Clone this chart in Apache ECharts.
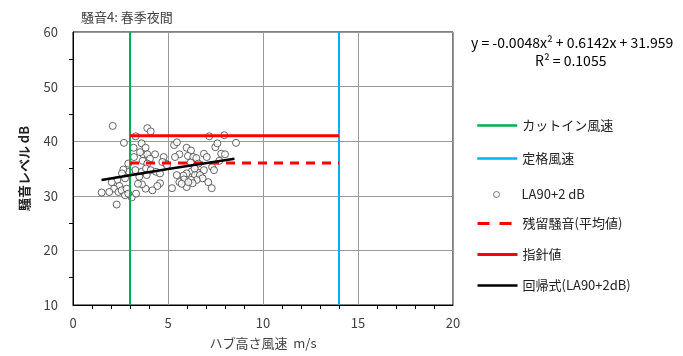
<!DOCTYPE html>
<html>
<head>
<meta charset="utf-8">
<script src="https://cdn.jsdelivr.net/npm/echarts@6/dist/echarts.min.js"></script>
<style>
  html, body { margin: 0; padding: 0; background: #fff; }
  #chart { width: 683px; height: 356px; }
</style>
</head>
<body>
<div id="chart"></div>
<script>
// 風速(m/s) と LA90+2dB の実測点
var windSpeed = [
  2.09, 3.91, 4.09, 3.30, 2.68, 3.19, 3.61, 3.82, 3.70, 3.91,
  4.32, 4.05, 3.67, 3.91, 2.91, 4.77, 4.88, 4.70, 5.32, 5.47,
  5.60, 5.98, 6.21, 6.05, 6.33, 6.49, 6.19, 6.60, 6.89, 7.17,
  7.49, 7.60, 7.96, 7.80, 8.00, 8.58, 7.04, 7.32, 7.42, 6.89,
  6.54, 6.25, 5.98, 5.81, 6.42, 6.68, 6.82, 6.51, 6.21, 5.84,
  5.60, 5.46, 5.21, 5.98, 6.30, 7.12, 7.30, 4.58, 4.44, 4.18,
  3.82, 3.63, 3.42, 3.61, 3.84, 4.09, 4.37, 3.28, 2.95, 2.65,
  2.58, 2.74, 2.33, 2.04, 2.44, 2.16, 1.91, 1.51, 2.39, 2.56,
  2.82, 2.74, 3.09, 3.32, 2.91, 2.30, 3.49, 3.88, 3.21, 3.53,
  4.58, 5.72, 6.07, 5.37, 4.95, 6.40, 7.70
];
var noiseLevel = [
  42.8, 42.4, 41.8, 40.9, 39.7, 38.8, 39.6, 38.8, 37.6, 37.6,
  37.6, 36.8, 36.4, 35.9, 35.9, 37.1, 35.9, 36.2, 39.3, 39.8,
  37.6, 38.8, 38.3, 37.3, 37.1, 36.9, 36.1, 35.9, 37.7, 40.9,
  38.9, 39.6, 41.1, 37.7, 37.6, 39.7, 37.1, 35.3, 34.7, 34.7,
  34.3, 34.5, 34.1, 33.7, 33.8, 33.8, 33.2, 32.9, 32.9, 33.0,
  32.5, 33.8, 31.4, 31.6, 32.3, 32.5, 31.4, 32.3, 31.8, 31.0,
  31.3, 32.1, 32.2, 34.4, 35.0, 34.7, 34.4, 34.7, 34.4, 34.8,
  34.1, 33.2, 32.9, 32.5, 31.8, 31.3, 30.7, 30.6, 30.7, 31.0,
  31.3, 30.1, 29.7, 30.4, 30.4, 28.4, 33.5, 33.8, 37.1, 38.0,
  34.1, 32.2, 32.5, 37.1, 35.6, 35.0, 36.4
];
var cutInSpeed = 3;
var ratedSpeed = 14;
var residualNoise = 36;   // 残留騒音(平均値)
var guideValue = 41;      // 指針値
// 回帰線 (図から読み取った点)
var regressionX = [1.5, 5.0, 8.5];
var regressionY = [32.9, 34.9, 36.8];
var xTicks = [0, 5, 10, 15, 20];
var yTicks = [10, 20, 30, 40, 50, 60];

var font = '"Noto Sans CJK JP", "Noto Sans", sans-serif';
var chart = echarts.init(document.getElementById('chart'));

var scatterData = windSpeed.map(function (x, i) { return [x, noiseLevel[i]]; });
var regressionData = regressionX.map(function (x, i) { return [x, regressionY[i]]; });

var legendText = { fontSize: 13, color: '#222', fontFamily: font };
var hideMark = { opacity: 0 }; // 凡例の線の上の丸は消す

var option = {
  backgroundColor: '#fff',
  animation: false,
  textStyle: { fontFamily: font },
  title: {
    text: '騒音4: 春季夜間',
    left: 76, top: 6,
    textStyle: { fontSize: 13, fontWeight: 'normal', color: '#404040', fontFamily: font }
  },
  graphic: [
    { type: 'text', left: 471, top: 36, style: { text: 'y = -0.0048x² + 0.6142x + 31.959', fill: '#000', font: '14px ' + font } },
    { type: 'text', left: 535, top: 54, style: { text: 'R² = 0.1055', fill: '#000', font: '14px ' + font } }
  ],
  legend: [
    {
      orient: 'vertical', left: 471, top: 114,
      itemWidth: 40, itemHeight: 14, itemGap: 20,
      textStyle: legendText,
      data: [
        { name: 'カットイン風速', itemStyle: hideMark, lineStyle: { width: 2.5 } },
        { name: '定格風速', itemStyle: hideMark, lineStyle: { width: 2.5 } }
      ]
    },
    {
      orient: 'vertical', left: 488, top: 183,
      itemWidth: 40, itemHeight: 6,
      textStyle: legendText,
      data: [{ name: 'LA90+2 dB', itemStyle: { color: '#fff', borderColor: '#555', borderWidth: 1 } }]
    },
    {
      orient: 'vertical', left: 471, top: 212,
      itemWidth: 40, itemHeight: 14, itemGap: 18,
      textStyle: legendText,
      data: [
        { name: '残留騒音(平均値)', itemStyle: hideMark, lineStyle: { type: [12, 10], width: 3 } },
        { name: '指針値', itemStyle: hideMark, lineStyle: { width: 3 } },
        { name: '回帰式(LA90+2dB)', itemStyle: hideMark, lineStyle: { width: 2.5 } }
      ]
    }
  ],
  grid: { left: 73, right: 230, top: 32, bottom: 51, show: true, borderColor: '#000', borderWidth: 1 },
  xAxis: {
    type: 'value', min: xTicks[0], max: xTicks[xTicks.length - 1], interval: 5,
    name: 'ハブ高さ風速  m/s', nameLocation: 'middle', nameGap: 32,
    nameTextStyle: { fontSize: 13, color: '#404040', fontFamily: font },
    axisLine: { lineStyle: { color: '#000' } },
    axisTick: { show: false },
    minorTick: { show: true, splitNumber: 5, length: 4, lineStyle: { color: '#000' } },
    axisLabel: { fontSize: 13, color: '#404040', margin: 12 },
    splitLine: { show: true, lineStyle: { color: '#999' } }
  },
  yAxis: {
    type: 'value', min: yTicks[0], max: yTicks[yTicks.length - 1], interval: 10,
    name: '騒音レベル dB', nameLocation: 'middle', nameGap: 42,
    nameTextStyle: { fontSize: 13, color: '#222', fontWeight: 'bold', fontFamily: font },
    axisLine: { lineStyle: { color: '#000' } },
    axisTick: { show: false },
    minorTick: { show: true, splitNumber: 2, length: 4, lineStyle: { color: '#000' } },
    axisLabel: { fontSize: 13, color: '#404040', margin: 15 },
    splitLine: { show: true, lineStyle: { color: '#999' } }
  },
  series: [
    {
      name: 'LA90+2 dB', type: 'scatter', data: scatterData,
      symbol: 'circle', symbolSize: 7,
      itemStyle: { color: '#fff', borderColor: '#404040', borderWidth: 1 },
      z: 2
    },
    {
      name: 'カットイン風速', type: 'line', symbol: 'none',
      data: [[cutInSpeed, yTicks[0]], [cutInSpeed, yTicks[yTicks.length - 1]]],
      lineStyle: { color: '#00B050', width: 2 }, itemStyle: { color: '#00B050' }, z: 3
    },
    {
      name: '定格風速', type: 'line', symbol: 'none',
      data: [[ratedSpeed, yTicks[0]], [ratedSpeed, yTicks[yTicks.length - 1]]],
      lineStyle: { color: '#00B0F0', width: 2 }, itemStyle: { color: '#00B0F0' }, z: 3
    },
    {
      name: '残留騒音(平均値)', type: 'line', symbol: 'none',
      data: [[cutInSpeed, residualNoise], [ratedSpeed, residualNoise]],
      lineStyle: { color: '#FF0000', width: 3, type: [9, 7] }, itemStyle: { color: '#FF0000' }, z: 4
    },
    {
      name: '指針値', type: 'line', symbol: 'none',
      data: [[cutInSpeed, guideValue], [ratedSpeed, guideValue]],
      lineStyle: { color: '#FF0000', width: 3 }, itemStyle: { color: '#FF0000' }, z: 4
    },
    {
      name: '回帰式(LA90+2dB)', type: 'line', symbol: 'none', smooth: true,
      data: regressionData,
      lineStyle: { color: '#000', width: 2.5 }, itemStyle: { color: '#000' }, z: 5
    }
  ]
};
chart.setOption(option);
</script>
</body>
</html>
